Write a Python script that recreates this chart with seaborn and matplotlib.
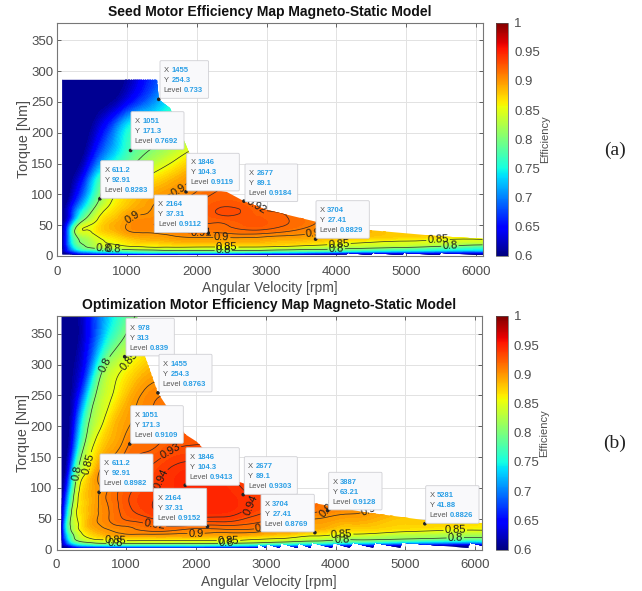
import numpy as np
import seaborn as sns
import pandas as pd
import matplotlib.pyplot as plt
import matplotlib.tri as mtri
from matplotlib.patches import FancyBboxPatch, Polygon
from matplotlib.transforms import IdentityTransform
from matplotlib.cm import ScalarMappable
from matplotlib.colors import Normalize

sns.set_theme(style="whitegrid")
plt.rcParams['font.family'] = ['Liberation Sans', 'DejaVu Sans']

W, H = 642, 591
GRAY = '#4d4d4d'
BLUE = '#2a9fe6'

speed = [72, 150, 250, 400, 600, 800, 1000, 1300, 1600, 2000, 2400, 2800, 3200, 3700, 4200, 5000, 6100]

# seed motor
torque_a = [3, 6, 9, 12, 16, 22, 30, 42, 60, 70, 80, 105, 130, 170, 210, 250, 290]
eff_a = [
    [.60, .60, .61, .62, .62, .63, .63, .63, .63, .63, .63, .62, .62, .61, .60, .60, .60],
    [.60, .62, .66, .69, .71, .72, .73, .74, .74, .74, .74, .73, .72, .70, .68, .67, .65],
    [.60, .65, .70, .74, .76, .77, .78, .79, .80, .80, .80, .80, .79, .78, .76, .74, .72],
    [.60, .66, .73, .78, .80, .81, .82, .83, .83, .83, .83, .83, .82, .81, .80, .78, .75],
    [.60, .67, .75, .80, .83, .84, .85, .855, .86, .86, .86, .86, .855, .84, .83, .82, .78],
    [.60, .68, .77, .81, .84, .855, .865, .875, .88, .885, .885, .885, .88, .87, .855, .845, .83],
    [.60, .68, .78, .82, .85, .865, .88, .89, .895, .90, .90, .90, .895, .89, .88, .87, .86],
    [.60, .68, .80, .85, .87, .885, .90, .905, .91, .915, .915, .92, .915, .905, .895, .875, .865],
    [.60, .63, .71, .80, .855, .88, .897, .905, .915, .92, .925, .926, .922, .91, .895, .87, .86],
    [.60, .625, .69, .77, .84, .87, .89, .90, .913, .92, .933, .925, .92, .905, .888, .865, .855],
    [.60, .62, .67, .74, .82, .86, .88, .897, .91, .92, .93, .922, .912, .90, .88, .86, .85],
    [.60, .60, .63, .69, .785, .84, .865, .885, .897, .91, .922, .915, .905, .895, .88, .86, .85],
    [.60, .60, .61, .655, .75, .79, .815, .85, .875, .90, .91, .905, .90, .89, .87, .85, .84],
    [.60, .60, .60, .61, .67, .72, .765, .80, .825, .86, .88, .88, .88, .87, .86, .85, .84],
    [.60, .60, .60, .60, .63, .68, .74, .76, .78, .80, .82, .84, .84, .84, .84, .84, .84],
    [.60, .60, .60, .60, .60, .61, .64, .69, .74, .77, .80, .82, .82, .82, .82, .82, .82],
    [.60, .60, .60, .60, .60, .60, .61, .66, .70, .73, .76, .78, .80, .80, .80, .80, .80],
]
top_x_a = [72, 1430, 1455, 1617, 1856, 2100, 2430, 2677, 3004, 3697, 4484, 5488, 6100]
top_y_a = [286, 286, 254, 240, 177, 110, 104, 89, 75, 56, 42, 32, 28]
low_x_a = [72, 4150, 4160, 4500, 4520, 4950, 4970, 5480, 5500, 6100]
low_y_a = [2.5, 2.5, 5, 1, 5, 1, 5, 1, 5, 1]

# optimization motor
torque_b = [3, 6, 9, 12, 16, 22, 30, 42, 60, 80, 105, 130, 170, 210, 250, 290, 340, 380]
eff_b = [
    [.60, .60, .62, .63, .63, .63, .63, .63, .63, .62, .62, .61, .60, .60, .60, .60, .60],
    [.60, .62, .67, .70, .71, .72, .72, .72, .72, .72, .71, .70, .68, .66, .63, .61, .60],
    [.60, .66, .72, .76, .78, .78, .79, .79, .79, .79, .78, .77, .75, .73, .70, .67, .65],
    [.60, .68, .76, .80, .82, .83, .83, .83, .83, .83, .83, .82, .80, .78, .76, .73, .71],
    [.60, .70, .79, .83, .85, .855, .86, .86, .86, .86, .86, .85, .84, .82, .80, .79, .77],
    [.60, .72, .80, .85, .875, .885, .89, .89, .89, .89, .885, .88, .87, .85, .835, .82, .81],
    [.60, .74, .82, .865, .89, .90, .905, .91, .91, .905, .905, .905, .895, .88, .865, .855, .845],
    [.60, .75, .83, .875, .90, .91, .915, .92, .925, .925, .925, .92, .91, .895, .885, .875, .865],
    [.60, .72, .83, .875, .90, .913, .925, .935, .943, .945, .945, .935, .925, .91, .902, .885, .875],
    [.60, .69, .81, .875, .90, .915, .928, .938, .945, .948, .948, .94, .93, .915, .905, .89, .88],
    [.60, .65, .78, .87, .899, .913, .925, .935, .943, .948, .945, .935, .925, .91, .90, .885, .875],
    [.60, .62, .74, .84, .895, .908, .92, .93, .94, .945, .94, .93, .92, .91, .90, .885, .875],
    [.60, .60, .67, .80, .865, .89, .907, .917, .925, .93, .93, .92, .91, .90, .89, .88, .87],
    [.60, .60, .64, .76, .835, .875, .895, .91, .915, .92, .92, .91, .90, .89, .88, .87, .86],
    [.60, .60, .62, .70, .815, .85, .88, .905, .91, .91, .91, .90, .89, .88, .87, .86, .85],
    [.60, .60, .61, .65, .77, .835, .858, .885, .895, .90, .90, .89, .88, .87, .86, .85, .84],
    [.60, .60, .60, .63, .70, .77, .81, .85, .87, .88, .88, .87, .86, .85, .84, .83, .82],
    [.60, .60, .60, .63, .69, .74, .78, .82, .84, .85, .85, .85, .84, .83, .82, .81, .80],
]
top_x_b = [75, 1150, 1274, 1455, 1845, 2011, 2300, 2613, 3000, 3708, 4397, 5258, 6100]
top_y_b = [380, 380, 312, 254, 187, 175, 140, 110, 95, 75, 61, 48, 43]
low_x_b = [75, 2880, 2890, 3000, 3010, 3200, 3220, 3450, 3470, 3640, 3660, 3950, 3970, 4200, 4250, 4540,
           4560, 4930, 4950, 5905, 5925, 6100]
low_y_b = [2.5, 2.5, 9, 2.5, 9, 2.5, 10, 2.5, 10, 2.5, 11, 2.5, 11, 2.5, 11, 2.5, 11, 2.5, 11, 2.5, 11, 6]

lines_a = [.8, .85, .9, .91, .92, .93]
lines_b = [.8, .85, .9, .91, .92, .93, .94]

# contour label spots, rpm and Nm
labels_a = [(800, 15), (660, 8), (2430, 15), (2380, 9), (4040, 18), (4000, 12), (5460, 25), (5630, 15),
            (1067, 64), (2358, 28), (3670, 40), (2070, 34), (1760, 102), (2835, 78)]
labels_b = [(290, 124), (695, 301), (442, 140), (1026, 308), (840, 15), (840, 9), (2465, 17), (2440, 10),
            (4090, 21), (4090, 14), (5717, 29), (5717, 20), (1400, 37), (3000, 35), (1600, 45), (2000, 27),
            (1630, 160), (2820, 69), (1600, 110), (4500, 56), (3900, 66)]

# data tips
tip_x_a = ['1455', '1051', '611.2', '2164', '1846', '2677', '3704']
tip_y_a = ['254.3', '171.3', '92.91', '37.31', '104.3', '89.1', '27.41']
tip_lvl_a = ['0.733', '0.7692', '0.8283', '0.9112', '0.9119', '0.9184', '0.8829']
tip_x_b = ['978', '1455', '1051', '611.2', '2164', '1846', '2677', '3704', '3887', '5281']
tip_y_b = ['313', '254.3', '171.3', '92.91', '37.31', '104.3', '89.1', '27.41', '63.21', '41.88']
tip_lvl_b = ['0.839', '0.8763', '0.9109', '0.8982', '0.9152', '0.9413', '0.9303', '0.8769', '0.9128', '0.8826']

# tip boxes, left/top/width in pixels
box_a = [(160, 60.7, 48.6), (131, 111.7, 53), (100.7, 160.7, 52.6), (154.3, 195, 53), (186.7, 153.3, 52.6),
         (245, 164, 52.7), (316, 200.7, 53.3)]
box_b = [(126, 318.3, 48.3), (159, 354.3, 53), (130.7, 405.7, 52.6), (100, 454, 53), (153.7, 488.3, 53),
         (186, 447.7, 53.3), (244.3, 456.7, 53), (261, 494.3, 53.3), (328.7, 472.3, 53.3), (425.7, 485.7, 53.3)]


def px_axes(left, right, top, bottom):
    return fig.add_axes([left / W, 1 - bottom / H, (right - left) / W, (bottom - top) / H])


def grid_tri(torque, eff):
    # triangles along the read grid, refined by matplotlib so the contours come out round
    nx, ny = len(speed), len(torque)
    gx, gy = np.meshgrid(speed, torque)
    idx = np.arange(nx * ny).reshape(ny, nx)
    a, b, c, d = idx[:-1, :-1].ravel(), idx[:-1, 1:].ravel(), idx[1:, 1:].ravel(), idx[1:, :-1].ravel()
    tris = np.vstack([np.c_[a, b, c], np.c_[a, c, d]])
    tri = mtri.Triangulation(gx.ravel(), gy.ravel(), tris)
    refiner = mtri.UniformTriRefiner(tri)
    fine, z = refiner.refine_field(np.ravel(eff), subdiv=3)
    return fine, np.clip(z, .606, None)


def panel(ax, cax, torque, eff, top_x, top_y, low_x, low_y, lines, labels, tips, boxes, title):
    outline = list(zip(low_x, low_y)) + list(zip(top_x[::-1], top_y[::-1]))
    clip = Polygon(outline, closed=True, transform=ax.transData, fill=False, edgecolor='none')
    ax.add_patch(clip)

    fine, z = grid_tri(torque, eff)
    filled = ax.tricontourf(fine, z, levels=np.arange(.6, 1.001, .005), cmap='jet',
                            vmin=.6, vmax=1, zorder=2)
    filled.set_edgecolor('face')
    filled.set_linewidth(.4)
    filled.set_clip_path(clip)
    cs = ax.tricontour(fine, z, levels=lines, colors='#2a2a2a', linewidths=.5, zorder=3)
    cs.set_clip_path(clip)
    ax.set_xlim(0, 6100)
    ax.set_ylim(0, 379)
    fig.canvas.draw()
    for t in ax.clabel(cs, manual=labels, fmt='%g', fontsize=8, inline=True, inline_spacing=1):
        t.set_color('#1a1a1a')
        t.set_zorder(4)

    tip_df = pd.DataFrame({'x': [float(v) for v in tips[0]], 'y': [float(v) for v in tips[1]]})
    sns.scatterplot(data=tip_df, x='x', y='y', color='#222222', s=7, edgecolor='none', ax=ax, zorder=5, clip_on=False)

    ax.set_xticks(range(0, 7000, 1000))
    ax.set_yticks(range(0, 400, 50))
    ax.set_title(title, fontsize=10, fontweight='bold', color='#111111', pad=5)
    ax.set_xlabel('Angular Velocity [rpm]', fontsize=10, color=GRAY, labelpad=2.5)
    ax.set_ylabel('Torque [Nm]', fontsize=10.3, color=GRAY, labelpad=0)
    ax.tick_params(labelsize=9.5, labelcolor=GRAY, color=GRAY, direction='in', length=3, width=.6,
                   top=True, right=True, bottom=True, left=True, pad=3)
    ax.tick_params(axis='x', pad=7)
    ax.grid(True, color='#e2e2e2', linewidth=.7)
    ax.set_axisbelow(True)
    for s in ax.spines.values():
        s.set_color('#777777')
        s.set_linewidth(.8)

    for (left, top, w), xv, yv, lv in zip(boxes, *tips):
        h = 37.6
        ax.add_patch(FancyBboxPatch((left, H - top - h), w, h, boxstyle='round,pad=0,rounding_size=1.2',
                                    transform=IdentityTransform(), facecolor='#f9f9fb', edgecolor='#cfcfd4',
                                    linewidth=.6, clip_on=False, zorder=10))
        for i, (name, val, off) in enumerate([('X', xv, 7.6), ('Y', yv, 7.6), ('Level', lv, 20.3)]):
            y = H - top - 9.7 - 10 * i
            ax.text(left + 3.7, y, name, transform=IdentityTransform(), fontsize=5.5, color='#555555',
                    va='center', ha='left', zorder=11, clip_on=False)
            ax.text(left + 3.7 + off, y, val, transform=IdentityTransform(), fontsize=5.5, color=BLUE,
                    fontweight='bold', va='center', ha='left', zorder=11, clip_on=False)

    cb = fig.colorbar(ScalarMappable(Normalize(.6, 1), 'jet'), cax=cax, ticks=np.arange(.6, 1.01, .05))
    cb.ax.set_yticklabels(['0.6', '0.65', '0.7', '0.75', '0.8', '0.85', '0.9', '0.95', '1'])
    cb.ax.tick_params(labelsize=9.5, labelcolor=GRAY, length=0, pad=4)
    cb.ax.grid(False)
    cb.outline.set_edgecolor('#555555')
    cb.outline.set_linewidth(.5)
    cb.set_label('Efficiency', fontsize=8, color=GRAY, labelpad=0)


fig = plt.figure(figsize=(W / 100, H / 100), dpi=100, facecolor='white')

ax_a = px_axes(57.3, 482.7, 22.5, 256)
cax_a = px_axes(496.5, 508.5, 22.5, 256)
ax_b = px_axes(56.5, 482, 316, 549.5)
cax_b = px_axes(496, 508, 316, 549.5)

panel(ax_a, cax_a, torque_a, eff_a, top_x_a, top_y_a, low_x_a, low_y_a, lines_a, labels_a,
      (tip_x_a, tip_y_a, tip_lvl_a), box_a, 'Seed Motor Efficiency Map Magneto-Static Model')
panel(ax_b, cax_b, torque_b, eff_b, top_x_b, top_y_b, low_x_b, low_y_b, lines_b, labels_b,
      (tip_x_b, tip_y_b, tip_lvl_b), box_b, 'Optimization Motor Efficiency Map Magneto-Static Model')

fig.text(615 / W, 1 - 150 / H, '(a)', family='Liberation Serif', fontsize=14, color='#222222', ha='center', va='center')
fig.text(615 / W, 1 - 443 / H, '(b)', family='Liberation Serif', fontsize=14, color='#222222', ha='center', va='center')

fig.savefig('out.png', dpi=100)
